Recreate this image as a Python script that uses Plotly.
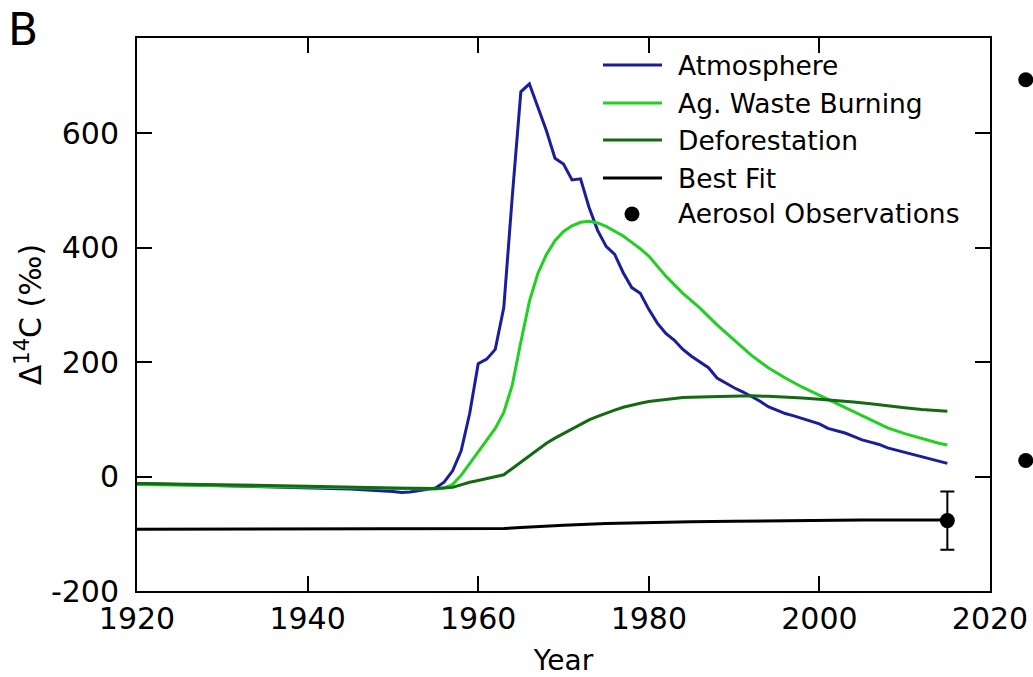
import plotly.graph_objects as go

# Atmospheric Δ14C record
atm_years = [1920, 1925, 1930, 1935, 1940, 1945, 1950, 1951, 1952, 1953, 1954, 1955,
             1956, 1957, 1958, 1959, 1960, 1961, 1962, 1963, 1964, 1965, 1966, 1967,
             1968, 1969, 1970, 1971, 1972, 1973, 1974, 1975, 1976, 1977, 1978, 1979,
             1980, 1981, 1982, 1983, 1984, 1985, 1986, 1987, 1988, 1989, 1990, 1991,
             1992, 1993, 1994, 1995, 1996, 1997, 1998, 1999, 2000, 2001, 2002, 2003,
             2004, 2005, 2006, 2007, 2008, 2009, 2010, 2011, 2012, 2013, 2014, 2015]
atm_vals = [-12, -14, -16, -17, -19, -22, -26, -28, -27, -25, -23, -20,
            -10, 10, 45, 110, 197, 205, 222, 295, 490, 672, 686, 645,
            604, 556, 546, 518, 520, 470, 430, 402, 388, 356, 330, 320,
            292, 268, 250, 238, 222, 210, 200, 190, 172, 163, 155, 148,
            140, 132, 122, 116, 110, 106, 101, 96, 92, 84, 80, 76,
            70, 64, 60, 56, 50, 46, 43, 38, 34, 30, 26, 23]

# Agricultural waste burning model
ag_years = [1920, 1930, 1940, 1950, 1955, 1956, 1957, 1958, 1959, 1960, 1961, 1962,
            1963, 1964, 1965, 1966, 1967, 1968, 1969, 1970, 1971, 1972, 1973, 1974,
            1975, 1976, 1977, 1978, 1979, 1980, 1982, 1984, 1986, 1988, 1990, 1992,
            1994, 1996, 1998, 2000, 2002, 2004, 2006, 2008, 2010, 2012, 2014, 2015]
ag_vals = [-14, -16, -18, -21, -22, -20, -14, 2, 22, 42, 62, 84,
           112, 160, 235, 306, 355, 388, 412, 428, 438, 444, 446, 443,
           437, 429, 420, 409, 398, 385, 350, 320, 294, 265, 238, 212,
           190, 172, 156, 142, 128, 113, 99, 85, 75, 66, 58, 55]

# Deforestation model
def_years = [1920, 1930, 1940, 1950, 1955, 1957, 1958, 1959, 1960, 1961, 1962, 1963,
             1964, 1965, 1966, 1967, 1968, 1969, 1970, 1971, 1972, 1973, 1974, 1975,
             1976, 1977, 1978, 1979, 1980, 1982, 1984, 1986, 1988, 1990, 1992, 1994,
             1996, 1998, 2000, 2002, 2004, 2006, 2008, 2010, 2012, 2015]
def_vals = [-12, -14, -17, -20, -21, -19, -14, -10, -7, -4, -1, 3,
            14, 25, 37, 48, 58, 67, 75, 84, 92, 99, 105, 111,
            116, 121, 125, 128, 131, 135, 138, 139, 140, 141, 141, 140,
            139, 137, 135, 133, 130, 127, 123, 120, 117, 114]

# Best fit mixture
fit_years = [1920, 1930, 1940, 1950, 1960, 1963, 1965, 1968, 1970, 1975, 1980, 1985,
             1990, 1995, 2000, 2005, 2010, 2015]
fit_vals = [-92, -92, -92, -92, -92, -91, -89, -86, -85, -82, -80, -79,
            -78, -77, -77, -76, -76, -76]

# Aerosol observation with uncertainty
obs_year = [2015]
obs_val = [-77]
obs_err_plus = [51]
obs_err_minus = [51]

# Markers of the neighbouring panel, on a narrow strip at the right edge
edge_x = [0.55, 0.55]
edge_y = [693, 28]

series_names = ["Atmosphere", "Ag. Waste Burning", "Deforestation", "Best Fit"]
series_colors = ["#1b1e9a", "#22d022", "#136a13", "#000000"]
obs_name = "Aerosol Observations"

x_ticks = [1920, 1940, 1960, 1980, 2000, 2020]
y_ticks = [-200, 0, 200, 400, 600]
y_tick_text = ["-200", "0", "200", "400", "600"]

FONT = "DejaVu Sans"

# Pixel layout: frame from x=137 to 990, y=38 to 591 in a 1033x677 page
PAGE_W = 1033
ML, MT, MB = 137, 38, 86
FRAME_R = 990
paper_w = PAGE_W - ML
main_dom = (FRAME_R - ML) / paper_w

fig = go.Figure()
series = [(atm_years, atm_vals), (ag_years, ag_vals), (def_years, def_vals), (fit_years, fit_vals)]
for (xs, ys), name, color in zip(series, series_names, series_colors):
    fig.add_trace(go.Scatter(x=xs, y=ys, mode="lines", name=name,
                             line=dict(color=color, width=3), showlegend=False))

fig.add_trace(go.Scatter(
    x=obs_year, y=obs_val, mode="markers", name=obs_name, showlegend=False,
    marker=dict(color="black", size=15),
    error_y=dict(type="data", symmetric=False, array=obs_err_plus, arrayminus=obs_err_minus,
                 color="black", thickness=2, width=7)))

fig.add_trace(go.Scatter(x=edge_x, y=edge_y, xaxis="x2", yaxis="y", mode="markers",
                         showlegend=False, marker=dict(color="black", size=15),
                         cliponaxis=False, hoverinfo="skip"))

# Hand-built legend in the upper right of the frame
L = float(FRAME_R - ML)
T = 553.0
def px_x(p):
    return (p - ML) / L * main_dom
def px_y(p):
    return (591 - p) / T

legend_rows = [65, 103, 140, 178, 214]
shapes = []
annotations = []
for row, name, color in zip(legend_rows, series_names, series_colors):
    shapes.append(dict(type="line", xref="paper", yref="paper",
                       x0=px_x(603), x1=px_x(662), y0=px_y(row), y1=px_y(row),
                       line=dict(color=color, width=3)))
    annotations.append(dict(text=name, xref="paper", yref="paper", x=px_x(676), y=px_y(row),
                            xanchor="left", yanchor="middle", showarrow=False,
                            font=dict(family=FONT, size=26.5, color="black")))
shapes.append(dict(type="circle", xref="paper", yref="paper", xsizemode="pixel", ysizemode="pixel",
                   xanchor=px_x(632), yanchor=px_y(legend_rows[4]),
                   x0=-7.5, x1=7.5, y0=-7.5, y1=7.5,
                   fillcolor="black", line=dict(color="black", width=0)))
annotations.append(dict(text=obs_name, xref="paper", yref="paper", x=px_x(676), y=px_y(legend_rows[4]),
                        xanchor="left", yanchor="middle", showarrow=False,
                        font=dict(family=FONT, size=26.5, color="black")))

# Panel letter
annotations.append(dict(text="B", xref="paper", yref="paper", x=px_x(6), y=px_y(2),
                        xanchor="left", yanchor="top", showarrow=False,
                        font=dict(family=FONT, size=44, color="black")))

axis_style = dict(showline=True, linecolor="black", linewidth=2, mirror="ticks",
                  ticks="inside", ticklen=15, tickwidth=2, tickcolor="black",
                  showgrid=False, zeroline=False, automargin=False,
                  tickfont=dict(family=FONT, size=30, color="black"))

fig.update_layout(
    width=PAGE_W, height=677,
    margin=dict(l=ML, r=0, t=MT, b=MB, autoexpand=False),
    paper_bgcolor="white", plot_bgcolor="white",
    xaxis=dict(domain=[0, main_dom], range=[1920, 2020], tickvals=x_ticks, **axis_style,
               title=dict(text="Year", font=dict(family=FONT, size=28, color="black"), standoff=16)),
    yaxis=dict(range=[-200, 766], tickvals=y_ticks, ticktext=y_tick_text,
               ticklabelstandoff=10, **axis_style,
               title=dict(text="Δ<sup>14</sup>C (‰)", font=dict(family=FONT, size=30, color="black"),
                          standoff=0)),
    xaxis2=dict(domain=[0.982, 1.0], range=[0, 1], anchor="y", visible=False),
    shapes=shapes, annotations=annotations,
    showlegend=False,
)

fig.write_html("out.html")
